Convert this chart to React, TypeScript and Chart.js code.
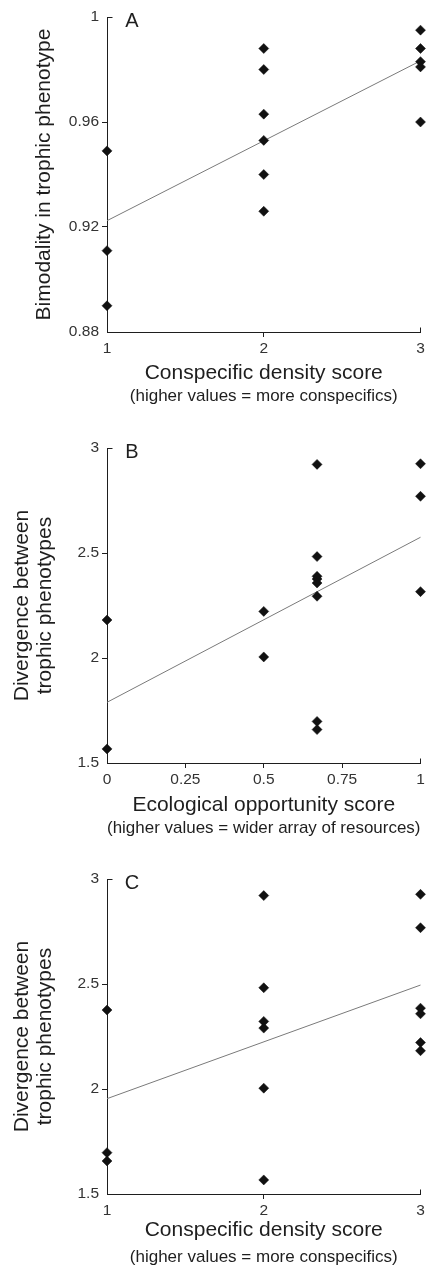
import React, { useEffect, useRef } from 'react';
import { Chart, registerables } from 'chart.js';

Chart.register(...registerables);

const FONT = '"Liberation Sans", Arial, Helvetica, sans-serif';
const INK = '#1e1e1e';
const LABEL = '#333333';
const FIT = '#7a7a7a';

// ---------- Panel A ----------
const aX = [1, 1, 1, 2, 2, 2, 2, 2, 2, 3, 3, 3, 3, 3];
const aY = [0.949, 0.911, 0.890, 0.988, 0.980, 0.963, 0.953, 0.940, 0.926, 0.995, 0.988, 0.983, 0.981, 0.960];
const aFitX = [1, 3];
const aFitY = [0.9224, 0.9833];

// ---------- Panel B ----------
const bX = [0, 0, 0.5, 0.5, 0.67, 0.67, 0.67, 0.67, 0.67, 0.67, 0.67, 0.67, 1, 1, 1];
const bY = [2.181, 1.567, 2.222, 2.005, 2.922, 2.483, 2.389, 2.376, 2.357, 2.294, 1.698, 1.659, 2.925, 2.770, 2.316];
const bFitX = [0, 1];
const bFitY = [1.789, 2.575];

// ---------- Panel C ----------
const cX = [1, 1, 1, 2, 2, 2, 2, 2, 2, 3, 3, 3, 3, 3, 3];
const cY = [2.376, 1.697, 1.657, 2.921, 2.482, 2.322, 2.290, 2.004, 1.567, 2.927, 2.768, 2.385, 2.358, 2.221, 2.182];
const cFitX = [1, 3];
const cFitY = [1.954, 2.495];

type Spec = {
  letter: string;
  xs: number[];
  ys: number[];
  fitX: number[];
  fitY: number[];
  xMin: number;
  xMax: number;
  xStep: number;
  yMin: number;
  yMax: number;
  yStep: number;
  yTitle: string | string[];
  yTitlePad: number;
  xTitle: string;
  xSub: string;
  xAxisH: number;
  subPad: number;
  padBottom: number;
};

const panels: Spec[] = [
  {
    letter: 'A', xs: aX, ys: aY, fitX: aFitX, fitY: aFitY,
    xMin: 1, xMax: 3, xStep: 1, yMin: 0.88, yMax: 1, yStep: 0.04,
    yTitle: 'Bimodality in trophic phenotype', yTitlePad: 32.5,
    xTitle: 'Conspecific density score', xSub: '(higher values = more conspecifics)',
    xAxisH: 53.6, subPad: 0.5, padBottom: 24.5,
  },
  {
    letter: 'B', xs: bX, ys: bY, fitX: bFitX, fitY: bFitY,
    xMin: 0, xMax: 1, xStep: 0.25, yMin: 1.5, yMax: 3, yStep: 0.5,
    yTitle: ['Divergence between', 'trophic phenotypes'], yTitlePad: 10.5,
    xTitle: 'Ecological opportunity score', xSub: '(higher values = wider array of resources)',
    xAxisH: 55, subPad: 0, padBottom: 23.6,
  },
  {
    letter: 'C', xs: cX, ys: cY, fitX: cFitX, fitY: cFitY,
    xMin: 1, xMax: 3, xStep: 1, yMin: 1.5, yMax: 3, yStep: 0.5,
    yTitle: ['Divergence between', 'trophic phenotypes'], yTitlePad: 10.5,
    xTitle: 'Conspecific density score', xSub: '(higher values = more conspecifics)',
    xAxisH: 48.6, subPad: 4.7, padBottom: 25.3,
  },
];

const fmt = (v: number) => String(Math.round(v * 1000) / 1000);

const endTicks = {
  id: 'endTicks',
  afterDraw(chart: any) {
    const { ctx } = chart;
    const xs = chart.scales.x;
    const ys = chart.scales.y;
    ctx.save();
    ctx.strokeStyle = INK;
    ctx.lineWidth = 1;
    const yTop = Math.round(ys.getPixelForValue(ys.max)) + 0.5;
    const xLeft = Math.round(xs.left) + 0.5;
    const xRight = Math.round(xs.getPixelForValue(xs.max)) - 0.5;
    const yBot = Math.round(ys.bottom) + 0.5;
    ctx.beginPath();
    ctx.moveTo(xLeft, yTop);
    ctx.lineTo(xLeft + 5, yTop);
    ctx.moveTo(xRight, yBot);
    ctx.lineTo(xRight, yBot - 5);
    ctx.stroke();
    ctx.restore();
  },
};

const panelLetter = {
  id: 'panelLetter',
  afterDraw(chart: any, _args: any, opts: any) {
    const { ctx, chartArea } = chart;
    ctx.save();
    ctx.fillStyle = INK;
    ctx.font = `20px ${FONT}`;
    ctx.textAlign = 'center';
    ctx.textBaseline = 'middle';
    ctx.fillText(opts.text, chartArea.left + 25, chartArea.top + 4.5);
    ctx.restore();
  },
};

function Panel({ spec, top, height }: { spec: Spec; top: number; height: number }) {
  const ref = useRef<HTMLCanvasElement | null>(null);

  useEffect(() => {
    if (!ref.current) return;
    const points = spec.xs.map((x, i) => ({ x, y: spec.ys[i] }));
    const fit = spec.fitX.map((x, i) => ({ x, y: spec.fitY[i] }));
    const tickColor = (c: any) => {
      const n = c.scale.ticks.length;
      return c.index === 0 || c.index === n - 1 ? 'rgba(0,0,0,0)' : INK;
    };
    const chart = new Chart(ref.current, {
      type: 'scatter',
      data: {
        datasets: [
          {
            data: points,
            pointStyle: 'rectRot',
            pointRadius: 5,
            pointHoverRadius: 5,
            backgroundColor: '#111111',
            borderColor: '#111111',
            borderWidth: 0.5,
            clip: false,
          } as any,
          {
            data: fit,
            showLine: true,
            pointRadius: 0,
            borderColor: FIT,
            borderWidth: 1,
            clip: false,
          } as any,
        ],
      },
      options: {
        animation: false,
        responsive: false,
        events: [],
        layout: { padding: { left: 0, right: 4.5, top: 17, bottom: spec.padBottom } },
        plugins: {
          legend: { display: false },
          tooltip: { enabled: false },
          title: { display: false },
          subtitle: {
            display: true,
            text: spec.xSub,
            position: 'bottom',
            fullSize: false,
            color: INK,
            font: { family: FONT, size: 17, weight: 'normal', lineHeight: 1.2 },
            padding: { top: spec.subPad, bottom: 0 },
          },
          panelLetter: { text: spec.letter },
        } as any,
        scales: {
          x: {
            type: 'linear',
            min: spec.xMin,
            max: spec.xMax,
            border: { display: true, color: INK, width: 1 },
            grid: { drawOnChartArea: false, drawTicks: true, tickLength: 5, tickColor, tickWidth: 1 },
            ticks: {
              stepSize: spec.xStep,
              padding: 2,
              color: LABEL,
              font: { family: FONT, size: 15.5, lineHeight: 1.2 },
              callback: (v: any) => fmt(Number(v)),
              maxRotation: 0,
              autoSkip: false,
            },
            title: {
              display: true,
              text: spec.xTitle,
              color: INK,
              font: { family: FONT, size: 21, lineHeight: 1.2 },
              padding: { top: 0, bottom: 0 },
            },
            afterFit: (s: any) => {
              s.height = spec.xAxisH;
              s.paddingLeft = 0;
              s.paddingRight = 0;
            },
          },
          y: {
            type: 'linear',
            min: spec.yMin,
            max: spec.yMax,
            border: { display: true, color: INK, width: 1 },
            grid: { drawOnChartArea: false, drawTicks: true, tickLength: 5, tickColor, tickWidth: 1 },
            ticks: {
              stepSize: spec.yStep,
              padding: 3,
              color: LABEL,
              font: { family: FONT, size: 15.5, lineHeight: 1.2 },
              callback: (v: any) => fmt(Number(v)),
              autoSkip: false,
            },
            title: {
              display: true,
              text: spec.yTitle,
              color: INK,
              font: { family: FONT, size: 21, lineHeight: 1.1 },
              padding: { top: spec.yTitlePad, bottom: 0 },
            },
            afterFit: (s: any) => {
              s.width = 107;
              s.paddingTop = 0;
              s.paddingBottom = 0;
            },
          },
        } as any,
      },
      plugins: [endTicks, panelLetter],
    } as any);
    return () => chart.destroy();
  }, [spec]);

  return (
    <canvas
      ref={ref}
      width={426}
      height={height}
      style={{ position: 'absolute', left: 0, top, width: 426, height, display: 'block' }}
    />
  );
}

export default function App() {
  return (
    <div
      style={{
        position: 'absolute',
        left: 0,
        top: 0,
        width: 426,
        height: 1265,
        overflow: 'hidden',
        background: '#ffffff',
      }}
    >
      <Panel spec={panels[0]} top={0} height={431} />
      <Panel spec={panels[1]} top={431} height={431} />
      <Panel spec={panels[2]} top={862} height={431} />
    </div>
  );
}
